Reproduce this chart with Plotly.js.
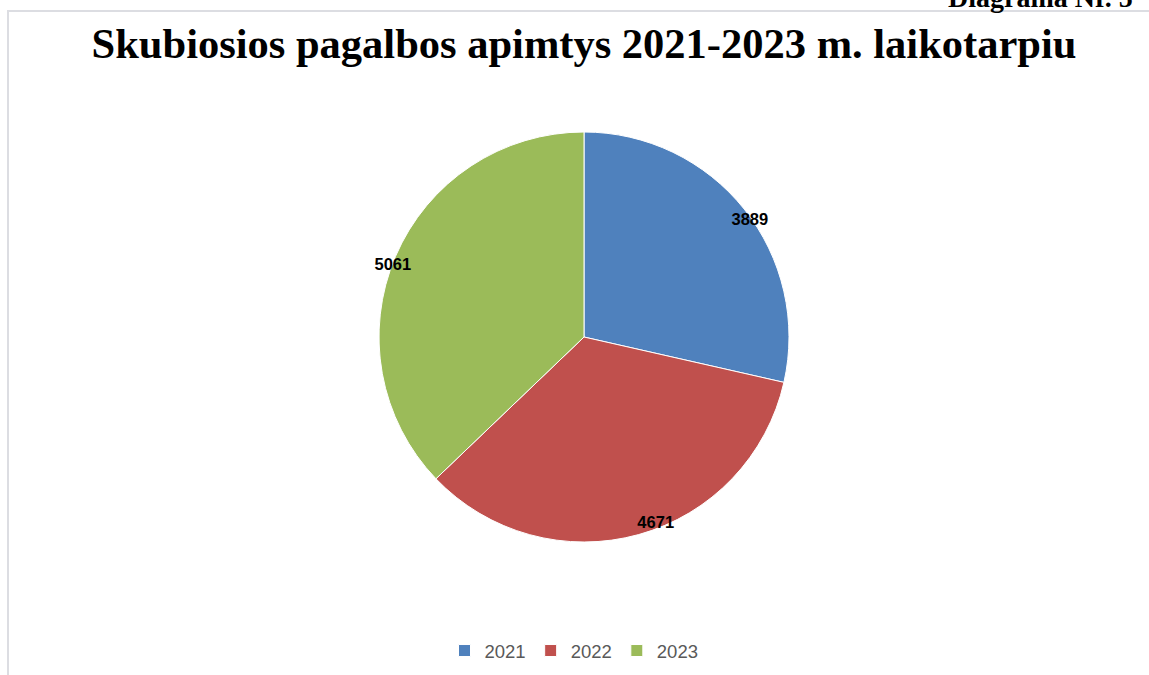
<!DOCTYPE html>
<html>
<head>
<meta charset="utf-8">
<script src="https://cdn.plot.ly/plotly-3.0.1.min.js"></script>
<style>html,body{margin:0;padding:0;background:#fff;}#chart{width:1149px;height:675px;}</style>
</head>
<body>
<div id="chart"></div>
<script>
const categories = ['2021', '2022', '2023'];
const values = [3889, 4671, 5061];
const colors = ['#4F81BD', '#C0504D', '#9BBB59'];

const W = 1149, H = 675;
const px = x => x / W;
const py = y => 1 - y / H;

const cx = 584, cy = 337, R = 205, RL = 183;

const pieMain = {
  type: 'pie',
  labels: categories,
  values: values,
  sort: false,
  direction: 'clockwise',
  rotation: 0,
  marker: {colors: colors, line: {color: '#ffffff', width: 1}},
  textinfo: 'none',
  hoverinfo: 'label+value',
  domain: {x: [px(cx - R), px(cx + R)], y: [py(cy + R), py(cy - R)]},
  showlegend: true
};

const pieLabels = {
  type: 'pie',
  labels: categories,
  values: values,
  sort: false,
  direction: 'clockwise',
  rotation: 0,
  marker: {colors: ['rgba(0,0,0,0)', 'rgba(0,0,0,0)', 'rgba(0,0,0,0)'], line: {width: 0}},
  texttemplate: '%{value}',
  textposition: 'outside',
  outsidetextfont: {family: 'Liberation Sans, Arial, sans-serif', size: 16.5, color: '#000000', weight: 'bold'},
  hoverinfo: 'skip',
  domain: {x: [px(cx - RL), px(cx + RL)], y: [py(cy + RL), py(cy - RL)]},
  showlegend: false
};

const layout = {
  width: W, height: H,
  margin: {l: 0, r: 0, t: 0, b: 0},
  paper_bgcolor: '#ffffff',
  title: {
    text: '<b>Skubiosios pagalbos apimtys 2021-2023 m. laikotarpiu</b>',
    font: {family: 'Liberation Serif, Times New Roman, serif', size: 42.5, color: '#000000'},
    x: px(584), xanchor: 'center',
    y: py(43), yanchor: 'middle', yref: 'paper'
  },
  legend: {
    orientation: 'h',
    x: px(574), xanchor: 'center',
    y: py(651), yanchor: 'middle',
    font: {family: 'Liberation Sans, Arial, sans-serif', size: 18.5, color: '#595959'},
    itemwidth: 30,
    traceorder: 'normal'
  },
  shapes: [{
    type: 'rect', xref: 'paper', yref: 'paper',
    x0: px(8), x1: px(1160), y0: py(700), y1: py(11),
    line: {color: '#dcdde2', width: 2}, fillcolor: 'rgba(0,0,0,0)', layer: 'below'
  }],
  annotations: [{
    text: '<b>Diagrama Nr. 5</b>',
    xref: 'paper', yref: 'paper',
    x: px(946), xanchor: 'left',
    y: py(-2.3), yanchor: 'middle',
    showarrow: false,
    font: {family: 'Liberation Serif, Times New Roman, serif', size: 28, color: '#000000'}
  }]
};

Plotly.newPlot('chart', [pieMain, pieLabels], layout, {displayModeBar: false, staticPlot: true});
</script>
</body>
</html>
